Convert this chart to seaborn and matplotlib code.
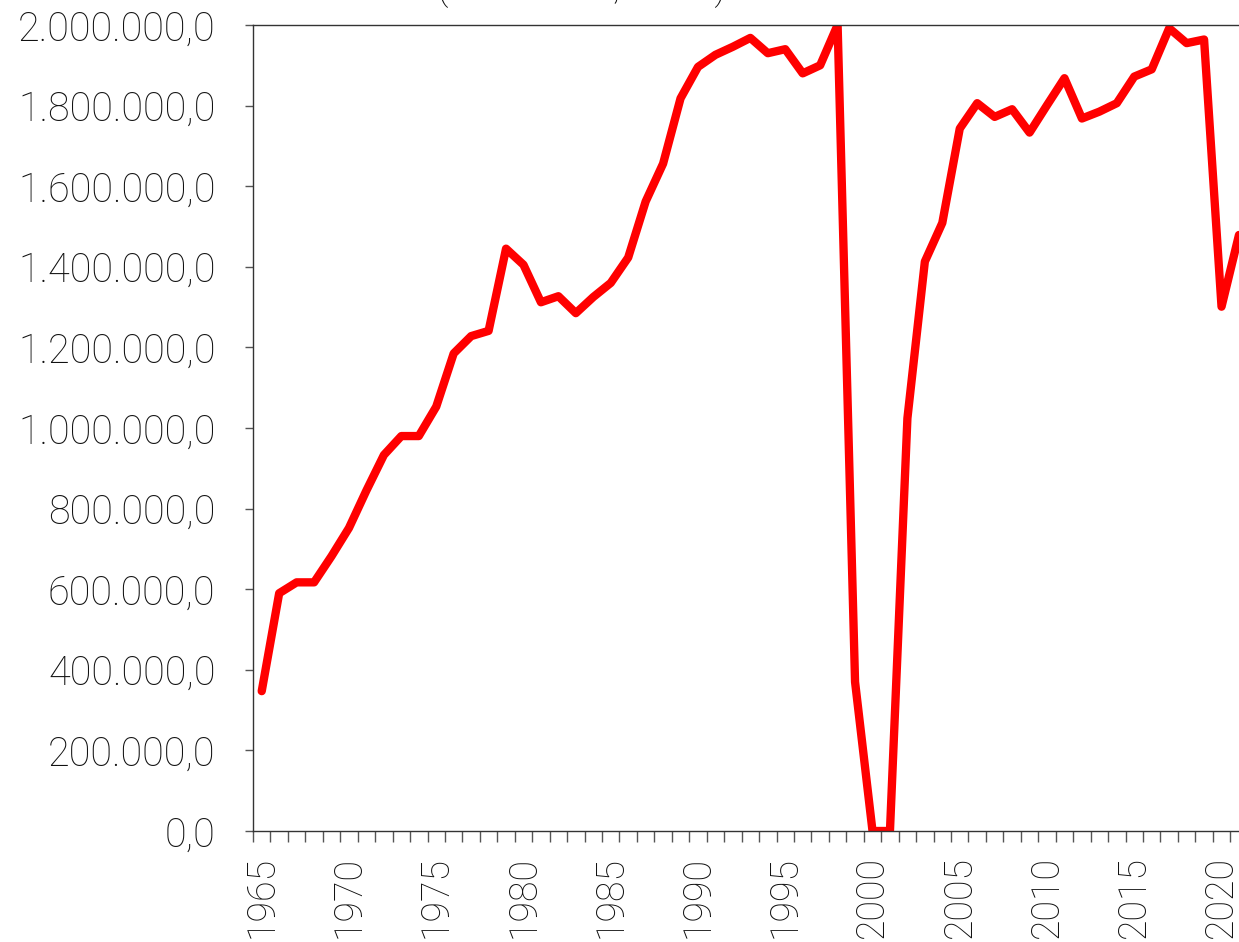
import numpy as np
import pandas as pd
import matplotlib.pyplot as plt
import seaborn as sns
from matplotlib.ticker import FuncFormatter, FixedLocator

years = list(range(1965, 2022))
values = [
    347000, 590000, 617000, 617000, 682000, 752000, 845000, 933000, 980000, 980000,
    1053000, 1185000, 1228000, 1241000, 1445000, 1405000, 1312000, 1327000, 1285000, 1325000,
    1360000, 1423000, 1562000, 1656000, 1818000, 1896000, 1926000, 1946000, 1968000, 1930000,
    1940000, 1880000, 1900000, 2000000, 370000, 0, 0, 1024000, 1413000, 1509000,
    1743000, 1806000, 1772000, 1791000, 1733000, 1801000, 1868000, 1768000, 1785000, 1806000,
    1872000, 1890000, 1992000, 1955000, 1964000, 1301000, 1479000,
]
label_years = [y for y in years if y % 5 == 0]
title = "(toneladas, 2021)"

df = pd.DataFrame({"year": years, "value": values})

sns.set_style("ticks")
plt.rcParams["font.family"] = ["Roboto", "DejaVu Sans"]
plt.rcParams["font.weight"] = "light"

fig = plt.figure(figsize=(12.39, 9.42), dpi=100)
# plot area runs past the right edge of the picture, like the cropped original
ax = fig.add_axes([253 / 1239, 111 / 942, 994.7 / 1239, 806 / 942])

sns.lineplot(data=df, x="year", y="value", color="#FF0000", linewidth=6,
             solid_capstyle="round", solid_joinstyle="round", ax=ax)

ax.set_xlim(1964.5, 2021.5)
ax.set_ylim(0, 2000000)
ax.set_yticks(np.arange(0, 2000001, 200000))
ax.yaxis.set_major_formatter(FuncFormatter(
    lambda v, p: f"{v:,.1f}".replace(",", "X").replace(".", ",").replace("X", ".")))

ax.xaxis.set_major_locator(FixedLocator(label_years))
ax.set_xticklabels([str(y) for y in label_years], rotation=90, va="top")
ax.xaxis.set_minor_locator(FixedLocator(np.arange(1964.5, 2022, 1)))

ax.tick_params(axis="x", which="major", length=0, pad=18, labelsize=27,
               labelcolor="#111111")
ax.tick_params(axis="x", which="minor", length=8, width=1, color="#555555",
               direction="out")
ax.tick_params(axis="y", which="major", length=6, width=1, color="#555555",
               direction="out", pad=21, labelsize=28.5, labelcolor="#111111")

ax.set_xlabel("")
ax.set_ylabel("")
for side in ["left", "bottom", "top"]:
    ax.spines[side].set_visible(True)
    ax.spines[side].set_linewidth(1.0)
    ax.spines[side].set_color("#333333")
ax.spines["right"].set_visible(False)

fig.text(437 / 1239, 1 + 1 / 942, title, ha="left", va="baseline",
         fontsize=28, color="#111111")

fig.savefig("out.png", dpi=100)
